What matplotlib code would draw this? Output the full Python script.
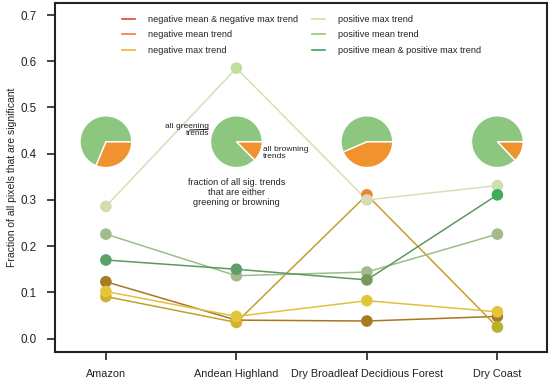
import matplotlib
matplotlib.use("Agg")
import matplotlib.pyplot as plt

plt.rcParams['font.family'] = ['Liberation Sans', 'DejaVu Sans']

regions = ["Amazon", "Andean Highland", "Dry Broadleaf Decidious Forest", "Dry Coast"]

neg_mean_neg_max = [0.123, 0.040, 0.038, 0.048]
neg_mean = [0.091, 0.035, 0.311, 0.025]
neg_max = [0.102, 0.048, 0.082, 0.058]
pos_max = [0.286, 0.585, 0.300, 0.331]
pos_mean = [0.226, 0.136, 0.144, 0.226]
pos_mean_pos_max = [0.170, 0.150, 0.127, 0.311]

browning_fraction = [0.313, 0.126, 0.435, 0.13]

series = [
    ("negative mean & negative max trend", neg_mean_neg_max, "#e5482b", "#a8761f", "#a87a22"),
    ("negative mean trend", neg_mean, "#f07c3e", "#c2a02e", ["#d2ae2c", "#d6b030", "#f08232", "#b8b02e"]),
    ("negative max trend", neg_max, "#f2b23c", "#e0c03e", "#e2c63a"),
    ("positive max trend", pos_max, "#cfe0ac", "#d3e1b6", ["#d7dcae", "#bde09c", "#d6dcb4", "#d2ddb0"]),
    ("positive mean trend", pos_mean, "#8fc67e", "#9dbd88", "#a3bb8c"),
    ("positive mean & positive max trend", pos_mean_pos_max, "#3aa65e", "#5c9860", ["#5aa268", "#5e9e68", "#74985e", "#3cae58"]),
]

fig = plt.figure(figsize=(5.5, 3.85), dpi=100)
ax = fig.add_axes([0.1, 0.0857, 0.8945, 0.9065])

x = [1, 2, 3, 4]
legend_handles = []
for label, vals, legc, linec, markc in series:
    ax.plot(x, vals, color=linec, lw=1.1, zorder=2)
    mc = markc if isinstance(markc, list) else [markc] * 4
    ax.scatter(x, vals, s=70, c=mc, zorder=3, linewidths=0)
    h, = ax.plot([], [], color=legc, lw=1.2, label=label)
    legend_handles.append(h)

ax.set_xlim(0.61, 4.38)
ax.set_ylim(-0.029, 0.726)
ax.set_xticks(x)
ax.set_xticklabels(regions)
ax.set_yticks([0.0, 0.1, 0.2, 0.3, 0.4, 0.5, 0.6, 0.7])
ax.set_yticklabels(["0.0", "0.1", "0.2", "0.3", "0.4", "0.5", "0.6", "0.7"])
ax.tick_params(axis='both', direction='out', length=6, width=1.2, labelsize=7.8,
               colors='#222222')
ax.tick_params(axis='y', pad=7, labelsize=8.4)
ax.tick_params(axis='x', pad=6)
for sp in ax.spines.values():
    sp.set_linewidth(1.5)
    sp.set_color('#222222')
ax.set_ylabel("Fraction of all pixels that are significant", fontsize=7.5, color='#222222', labelpad=3)

leg = ax.legend(handles=legend_handles, ncol=2, frameon=False, fontsize=6.6,
                loc='upper left', bbox_to_anchor=(0.136, 0.966), borderaxespad=0, borderpad=0,
                handlelength=1.4, columnspacing=1.5, labelspacing=0.72, handletextpad=1.45)
for t in leg.get_texts():
    t.set_color('#222222')

# pies
pie_y = 0.426
w, h = 0.5, 0.14
for xi, bf in zip(x, browning_fraction):
    iax = ax.inset_axes([xi - w / 2, pie_y - h / 2, w, h], transform=ax.transData)
    iax.pie([bf, 1 - bf], colors=["#f0922e", "#8dc77f"], startangle=0, counterclock=False,
            wedgeprops=dict(edgecolor='white', linewidth=1.0))
    iax.set_zorder(4)

ax.annotate("all greening\ntrends", xy=(1.805, 0.453), xytext=(1.79, 0.451),
            ha='right', va='center', fontsize=6.0, color='#222222', linespacing=0.95,
            arrowprops=dict(arrowstyle='-', color='#222222', lw=0.8))
ax.text(2.205, 0.402, "all browning\ntrends", ha='left', va='center', fontsize=6.0,
        color='#222222', linespacing=0.95)
ax.text(2.0, 0.316, "fraction of all sig. trends\nthat are either\ngreening or browning",
        ha='center', va='center', fontsize=6.6, color='#222222', linespacing=1.15)

fig.savefig("out.png", dpi=100)
